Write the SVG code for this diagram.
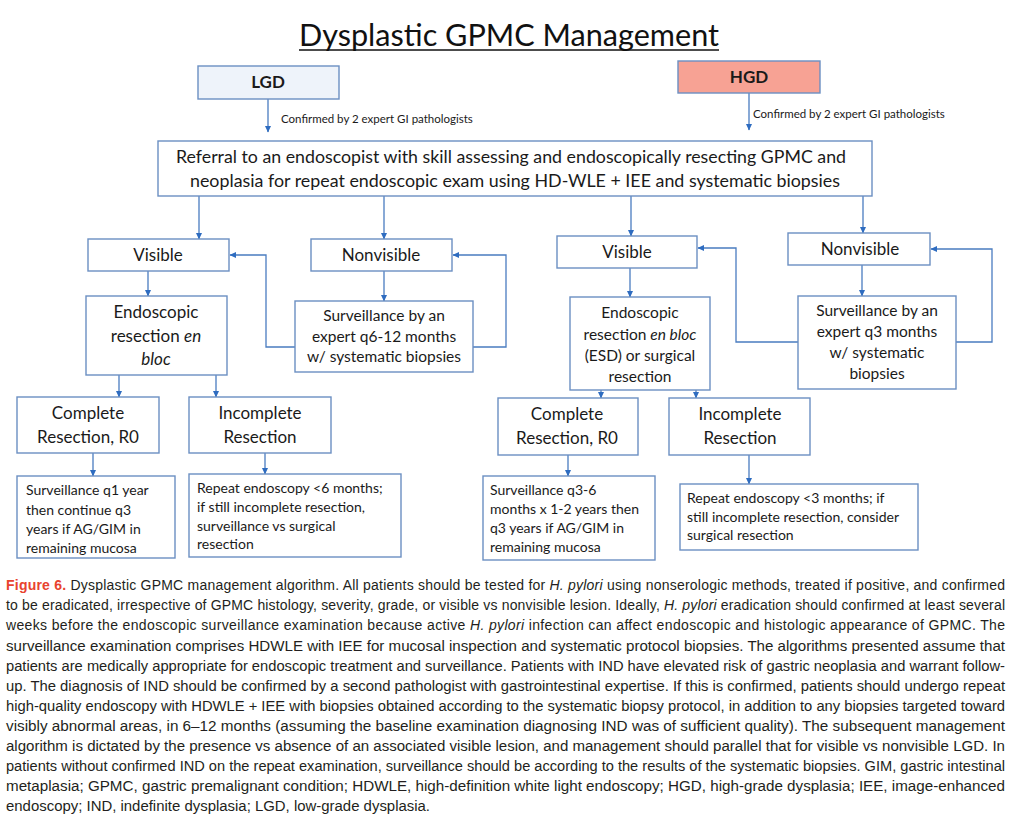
<svg xmlns="http://www.w3.org/2000/svg" width="1012" height="819" viewBox="0 0 1012 819">
<style>
.box{fill:#ffffff;stroke:#6b8fc2;stroke-width:1.4}
.t{font-family:Lato,"Open Sans","Liberation Sans",sans-serif;fill:#1a1a1a;text-anchor:middle}
.m{font-size:17px}
.s{font-size:15.5px}
.b{font-family:Lato,"Open Sans","Liberation Sans",sans-serif;fill:#1a1a1a;font-size:14px}
.lab{font-family:Lato,"Open Sans","Liberation Sans",sans-serif;fill:#1a1a1a;font-size:11.5px}
.c{fill:none;stroke:#4a7cc0;stroke-width:1.3}
.cap{font-family:"Liberation Sans",Arial,sans-serif;font-size:14px;fill:#231f20}
.it{font-style:italic}
</style>
<defs>
<marker id="ah" markerWidth="7" markerHeight="7" refX="6" refY="3.5" orient="auto" markerUnits="userSpaceOnUse">
<path d="M0,0.5 L6.5,3.5 L0,6.5 Z" fill="#2e6cc0"/>
</marker>
</defs>
<rect width="1012" height="819" fill="#ffffff"/>

<g id="title">
<text x="509" y="46" font-family="Lato,'Open Sans','Liberation Sans',sans-serif" font-size="31" fill="#111" text-anchor="middle" textLength="420" lengthAdjust="spacingAndGlyphs">Dysplastic GPMC Management</text>
<line x1="299" y1="50" x2="719" y2="50" stroke="#111" stroke-width="1.6"/>
</g>

<g id="connectors">
<line class="c" x1="268" y1="99" x2="268" y2="132" marker-end="url(#ah)"/>
<line class="c" x1="749" y1="93" x2="749" y2="130" marker-end="url(#ah)"/>
<line class="c" x1="199" y1="196" x2="199" y2="239" marker-end="url(#ah)"/>
<line class="c" x1="384" y1="196" x2="384" y2="239" marker-end="url(#ah)"/>
<line class="c" x1="631" y1="196" x2="631" y2="236" marker-end="url(#ah)"/>
<line class="c" x1="863" y1="196" x2="863" y2="233" marker-end="url(#ah)"/>
<line class="c" x1="148" y1="271" x2="148" y2="296" marker-end="url(#ah)"/>
<line class="c" x1="384" y1="271" x2="384" y2="301" marker-end="url(#ah)"/>
<polyline class="c" points="295,347 266,347 266,255 230,255" marker-end="url(#ah)"/>
<polyline class="c" points="473,347 506,347 506,255 453,255" marker-end="url(#ah)"/>
<line class="c" x1="119" y1="375" x2="119" y2="397" marker-end="url(#ah)"/>
<line class="c" x1="216" y1="375" x2="216" y2="397" marker-end="url(#ah)"/>
<line class="c" x1="93" y1="453" x2="93" y2="476" marker-end="url(#ah)"/>
<line class="c" x1="265" y1="453" x2="265" y2="474" marker-end="url(#ah)"/>
<line class="c" x1="630" y1="268" x2="630" y2="297" marker-end="url(#ah)"/>
<line class="c" x1="862" y1="265" x2="862" y2="296" marker-end="url(#ah)"/>
<polyline class="c" points="798,342 736,342 736,248 698,248" marker-end="url(#ah)"/>
<polyline class="c" points="956,342 992,342 992,249 931,249" marker-end="url(#ah)"/>
<line class="c" x1="601" y1="390" x2="601" y2="398" marker-end="url(#ah)"/>
<line class="c" x1="696" y1="390" x2="696" y2="398" marker-end="url(#ah)"/>
<line class="c" x1="568" y1="455" x2="568" y2="476" marker-end="url(#ah)"/>
<line class="c" x1="749" y1="455" x2="749" y2="484" marker-end="url(#ah)"/>
</g>

<g id="lgd">
<rect x="198" y="66" width="141" height="33" fill="#eef3fa" stroke="#6b8fc2" stroke-width="1.4"/>
<text class="t" x="268" y="88" font-size="17" font-weight="bold">LGD</text>
</g>
<g id="hgd">
<rect x="678" y="61" width="142" height="32" fill="#f7a294" stroke="#6b8fc2" stroke-width="1.4"/>
<text class="t" x="749" y="83" font-size="17" font-weight="bold">HGD</text>
</g>
<g id="label-lgd"><text class="lab" x="281" y="123">Confirmed by 2 expert GI pathologists</text></g>
<g id="label-hgd"><text class="lab" x="753" y="118">Confirmed by 2 expert GI pathologists</text></g>

<g id="referral">
<rect class="box" x="158" y="141" width="714" height="55"/>
<text class="t" x="511" y="163" font-size="18" textLength="670" lengthAdjust="spacingAndGlyphs">Referral to an endoscopist with skill assessing and endoscopically resecting GPMC and</text>
<text class="t" x="515" y="187" font-size="18" textLength="650" lengthAdjust="spacingAndGlyphs">neoplasia for repeat endoscopic exam using HD-WLE + IEE and systematic biopsies</text>
</g>

<g id="lgd-visible">
<rect class="box" x="88" y="239" width="141" height="32"/>
<text class="t m" x="158" y="261">Visible</text>
</g>
<g id="lgd-nonvisible">
<rect class="box" x="311" y="239" width="141" height="32"/>
<text class="t m" x="381" y="261">Nonvisible</text>
</g>
<g id="lgd-resection">
<rect class="box" x="86" y="296" width="141" height="79"/>
<text class="t m" x="156" y="318">Endoscopic</text>
<text class="t m" x="156" y="342">resection <tspan font-style="italic">en</tspan></text>
<text class="t m" x="156" y="365" font-style="italic">bloc</text>
</g>
<g id="lgd-surveillance">
<rect class="box" x="295" y="301" width="178" height="71"/>
<text class="t s" x="384" y="321">Surveillance by an</text>
<text class="t s" x="384" y="342">expert q6-12 months</text>
<text class="t s" x="384" y="362">w/ systematic biopsies</text>
</g>
<g id="lgd-complete">
<rect class="box" x="17" y="397" width="142" height="56"/>
<text class="t m" x="88" y="419">Complete</text>
<text class="t m" x="88" y="443">Resection, R0</text>
</g>
<g id="lgd-incomplete">
<rect class="box" x="189" y="397" width="142" height="56"/>
<text class="t m" x="260" y="419">Incomplete</text>
<text class="t m" x="260" y="443">Resection</text>
</g>
<g id="lgd-q1">
<rect class="box" x="17" y="476" width="158" height="82"/>
<text class="b" x="26" y="495">Surveillance q1 year</text>
<text class="b" x="26" y="515">then continue q3</text>
<text class="b" x="26" y="534">years if AG/GIM in</text>
<text class="b" x="26" y="553">remaining mucosa</text>
</g>
<g id="lgd-repeat">
<rect class="box" x="189" y="474" width="212" height="83"/>
<text class="b" x="197" y="493">Repeat endoscopy &lt;6 months;</text>
<text class="b" x="197" y="512">if still incomplete resection,</text>
<text class="b" x="197" y="531">surveillance vs surgical</text>
<text class="b" x="197" y="549">resection</text>
</g>

<g id="hgd-visible">
<rect class="box" x="557" y="236" width="140" height="32"/>
<text class="t m" x="627" y="258">Visible</text>
</g>
<g id="hgd-nonvisible">
<rect class="box" x="788" y="233" width="142" height="32"/>
<text class="t m" x="860" y="255">Nonvisible</text>
</g>
<g id="hgd-resection">
<rect class="box" x="570" y="297" width="140" height="93"/>
<text class="t s" x="640" y="318">Endoscopic</text>
<text class="t s" x="640" y="340">resection <tspan font-style="italic">en bloc</tspan></text>
<text class="t s" x="640" y="361">(ESD) or surgical</text>
<text class="t s" x="640" y="382">resection</text>
</g>
<g id="hgd-surveillance">
<rect class="box" x="798" y="296" width="158" height="93"/>
<text class="t s" x="877" y="316">Surveillance by an</text>
<text class="t s" x="877" y="337">expert q3 months</text>
<text class="t s" x="877" y="358">w/ systematic</text>
<text class="t s" x="877" y="379">biopsies</text>
</g>
<g id="hgd-complete">
<rect class="box" x="498" y="398" width="140" height="57"/>
<text class="t m" x="567" y="420">Complete</text>
<text class="t m" x="567" y="444">Resection, R0</text>
</g>
<g id="hgd-incomplete">
<rect class="box" x="669" y="398" width="141" height="57"/>
<text class="t m" x="740" y="420">Incomplete</text>
<text class="t m" x="740" y="444">Resection</text>
</g>
<g id="hgd-q3-6">
<rect class="box" x="483" y="476" width="172" height="84"/>
<text class="b" x="490" y="495">Surveillance q3-6</text>
<text class="b" x="490" y="514">months x 1-2 years then</text>
<text class="b" x="490" y="533">q3 years if AG/GIM in</text>
<text class="b" x="490" y="552">remaining mucosa</text>
</g>
<g id="hgd-repeat">
<rect class="box" x="680" y="484" width="238" height="66"/>
<text class="b" x="687" y="503">Repeat endoscopy &lt;3 months; if</text>
<text class="b" x="687" y="522">still incomplete resection, consider</text>
<text class="b" x="687" y="540">surgical resection</text>
</g>

<g id="caption">
<text class="cap" x="6" y="590" textLength="999" lengthAdjust="spacing"><tspan font-weight="bold" fill="#e8432e">Figure 6.</tspan> Dysplastic GPMC management algorithm. All patients should be tested for <tspan class="it">H. pylori</tspan> using nonserologic methods, treated if positive, and confirmed</text>
<text class="cap" x="6" y="610" textLength="999" lengthAdjust="spacing">to be eradicated, irrespective of GPMC histology, severity, grade, or visible vs nonvisible lesion. Ideally, <tspan class="it">H. pylori</tspan> eradication should confirmed at least several</text>
<text class="cap" x="6" y="630" textLength="999" lengthAdjust="spacing">weeks before the endoscopic surveillance examination because active <tspan class="it">H. pylori</tspan> infection can affect endoscopic and histologic appearance of GPMC. The</text>
<text class="cap" x="6" y="651" textLength="999" lengthAdjust="spacingAndGlyphs">surveillance examination comprises HDWLE with IEE for mucosal inspection and systematic protocol biopsies. The algorithms presented assume that</text>
<text class="cap" x="6" y="671" textLength="999" lengthAdjust="spacingAndGlyphs">patients are medically appropriate for endoscopic treatment and surveillance. Patients with IND have elevated risk of gastric neoplasia and warrant follow-</text>
<text class="cap" x="6" y="691" textLength="999" lengthAdjust="spacingAndGlyphs">up. The diagnosis of IND should be confirmed by a second pathologist with gastrointestinal expertise. If this is confirmed, patients should undergo repeat</text>
<text class="cap" x="6" y="711" textLength="999" lengthAdjust="spacingAndGlyphs">high-quality endoscopy with HDWLE + IEE with biopsies obtained according to the systematic biopsy protocol, in addition to any biopsies targeted toward</text>
<text class="cap" x="6" y="731" textLength="999" lengthAdjust="spacingAndGlyphs">visibly abnormal areas, in 6–12 months (assuming the baseline examination diagnosing IND was of sufficient quality). The subsequent management</text>
<text class="cap" x="6" y="751" textLength="999" lengthAdjust="spacingAndGlyphs">algorithm is dictated by the presence vs absence of an associated visible lesion, and management should parallel that for visible vs nonvisible LGD. In</text>
<text class="cap" x="6" y="771" textLength="999" lengthAdjust="spacingAndGlyphs">patients without confirmed IND on the repeat examination, surveillance should be according to the results of the systematic biopsies. GIM, gastric intestinal</text>
<text class="cap" x="6" y="791" textLength="999" lengthAdjust="spacingAndGlyphs">metaplasia; GPMC, gastric premalignant condition; HDWLE, high-definition white light endoscopy; HGD, high-grade dysplasia; IEE, image-enhanced</text>
<text class="cap" x="6" y="811" textLength="424" lengthAdjust="spacingAndGlyphs">endoscopy; IND, indefinite dysplasia; LGD, low-grade dysplasia.</text>
</g>
</svg>
